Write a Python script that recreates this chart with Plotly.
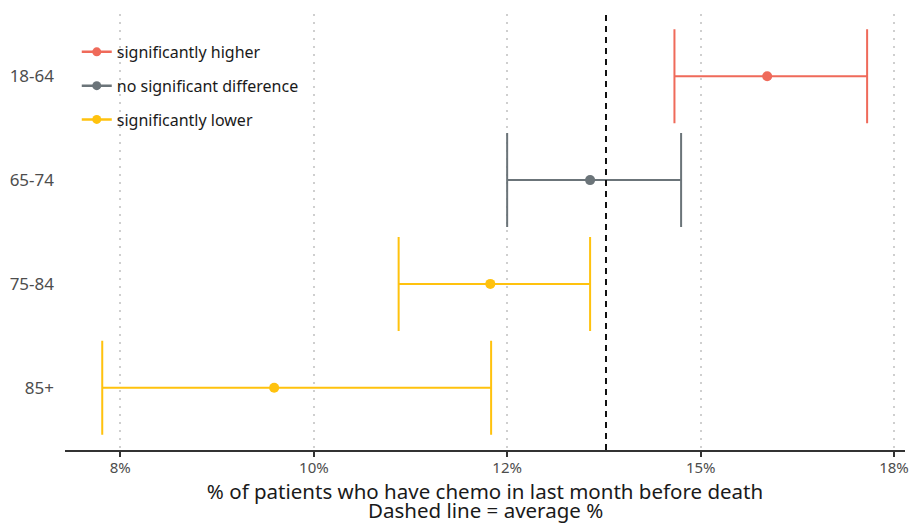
import math
import plotly.graph_objects as go

# ---- data (percent) ----
categories = ["85+", "75-84", "65-74", "18-64"]
estimate = [9.40, 11.79, 13.09, 15.76]
lower = [7.85, 10.71, 12.00, 14.30]
upper = [11.80, 13.09, 14.40, 17.50]
status = ["significantly lower", "significantly lower", "no significant difference", "significantly higher"]
average = 13.31

groups = ["significantly higher", "no significant difference", "significantly lower"]
colors = {"significantly higher": "#EF6A5A",
          "no significant difference": "#6B7479",
          "significantly lower": "#FFC20E"}

tick_vals = [8, 9.8, 12, 14.7, 18]
tick_text = ["8%", "10%", "12%", "15%", "18%"]

x_title = "% of patients who have chemo in last month before death"
x_subtitle = "Dashed line = average %"

FONT = "Noto Sans"

fig = go.Figure()

# error bars + points
for g in groups:
    idx = [i for i, s in enumerate(status) if s == g]
    fig.add_trace(go.Scatter(
        x=[estimate[i] for i in idx],
        y=[categories[i] for i in idx],
        mode="markers",
        marker=dict(color=colors[g], size=10),
        error_x=dict(type="data", symmetric=False,
                     array=[upper[i] - estimate[i] for i in idx],
                     arrayminus=[estimate[i] - lower[i] for i in idx],
                     color=colors[g], thickness=2, width=47),
        showlegend=False, hoverinfo="x+y",
    ))

# legend entries
for k, g in enumerate(groups):
    fig.add_trace(go.Scatter(
        x=[None], y=[None], mode="lines+markers", name=g,
        line=dict(color=colors[g], width=2.5),
        marker=dict(color=colors[g], size=9),
        legendgroup=g, showlegend=True,
    ))

# dashed average line on helper axis
fig.add_trace(go.Scatter(
    x=[average, average], y=[0, 1], yaxis="y2", mode="lines",
    line=dict(color="#111111", width=2, dash="6px,5px"),
    showlegend=False, hoverinfo="skip",
))

lo = math.log10(8) - 55.3 / 2196.9
hi = math.log10(18) + 11 / 2196.9

fig.update_layout(
    width=909, height=524,
    margin=dict(l=65, r=4, t=14, b=74),
    paper_bgcolor="white", plot_bgcolor="white",
    font=dict(family=FONT, size=16, color="#4d4d4d"),
    xaxis=dict(
        type="log", range=[lo, hi], automargin=False,
        tickvals=tick_vals, ticktext=tick_text, ticklabeloverflow="allow",
        showgrid=True, gridcolor="#cfcfcf", gridwidth=1.5, griddash="2px,6px",
        showline=True, linecolor="#333333", linewidth=1.5,
        ticks="outside", ticklen=5, tickwidth=1.5, tickcolor="#333333",
        ticklabelstandoff=-2,
        tickfont=dict(size=15, color="#4d4d4d"),
        zeroline=False,
        title=dict(text=x_title, font=dict(size=20.5, color="#1a1a1a"), standoff=3),
    ),
    yaxis=dict(
        type="category", categoryorder="array", categoryarray=categories,
        range=[-0.6, 3.6], showgrid=False, showline=False, zeroline=False,
        ticks="", ticklabelstandoff=10, automargin=False,
        tickfont=dict(size=17, color="#4d4d4d"),
    ),
    yaxis2=dict(overlaying="y", range=[0, 1], visible=False, fixedrange=True),
    legend=dict(
        x=0.014, y=0.952, xanchor="left", yanchor="top",
        font=dict(size=16, color="#1a1a1a"),
        bgcolor="rgba(0,0,0,0)", tracegroupgap=10, itemwidth=30,
        traceorder="grouped",
    ),
    annotations=[dict(
        text=x_subtitle, xref="paper", yref="paper", x=0.5, y=-0.138,
        xanchor="center", yanchor="middle", showarrow=False,
        font=dict(size=20.5, color="#1a1a1a"),
    )],
    showlegend=True,
)

# remove the default page margin so the figure fills the 909x524 window exactly
fig.write_html(
    "out.html",
    config={"displayModeBar": False},
    post_script="document.body.style.margin='0';document.body.style.overflow='hidden';",
)
